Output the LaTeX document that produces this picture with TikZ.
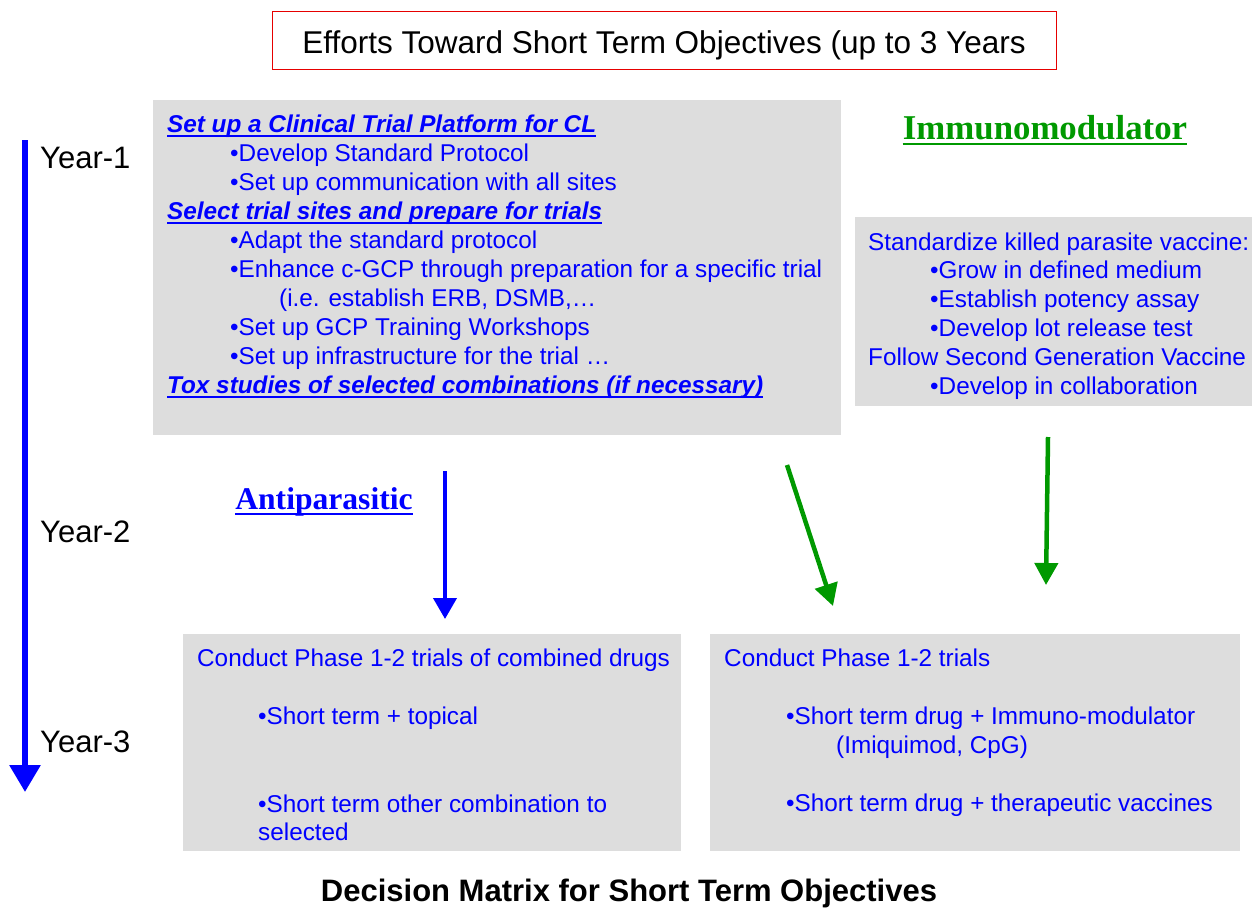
\documentclass[tikz,border=0pt]{standalone}
\usepackage{fontspec}
\setmainfont{Liberation Sans}
\newfontfamily\serifb{Liberation Serif}
\usetikzlibrary{arrows.meta}
\definecolor{bblue}{RGB}{0,0,255}
\definecolor{boxgray}{RGB}{221,221,221}
\definecolor{dgreen}{RGB}{0,153,0}
\definecolor{tred}{RGB}{230,0,0}
\tikzset{
  gbox/.style={fill=boxgray, draw=none},
  txt/.style={anchor=base west, inner sep=0pt, text=bblue, font=\fontsize{24.3}{28}\selectfont},
  hdr/.style={anchor=base west, inner sep=0pt, text=bblue, font=\fontsize{24.3}{28}\selectfont\bfseries\itshape},
  yr/.style={anchor=base west, inner sep=0pt, font=\fontsize{31}{34}\selectfont},
  ttl/.style={anchor=base, inner sep=0pt},
  blarrow/.style={draw=bblue, line width=4pt, -{Triangle[length=21pt,width=23pt]}},
  grarrow/.style={draw=dgreen, line width=4.5pt, -{Triangle[length=22pt,width=23pt]}},
}
\newcommand{\ul}[3][bblue]{\draw[#1, line width=2.6pt] ([yshift=-#3]#2.base west) -- ([yshift=-#3]#2.base east);}
\begin{document}
\begin{tikzpicture}[x=1pt,y=-1pt]
\useasboundingbox (0,0) rectangle (1252,907);
% title
\node[draw=tred, line width=1pt, fill=white, minimum width=784pt, minimum height=57pt, inner sep=0pt] (tbox) at (664,40.5) {};
\node[ttl, font=\fontsize{31.5}{34}\selectfont] (title) at (664,53) {Efforts Toward Short Term Objectives (up to 3 Years};
% boxes
\node[gbox, minimum width=688pt, minimum height=335pt, inner sep=0pt] (b1) at (497,267.5) {};
\node[gbox, minimum width=397pt, minimum height=189pt, inner sep=0pt] (b2) at (1053.5,311.5) {};
\node[gbox, minimum width=498pt, minimum height=217pt, inner sep=0pt] (b3) at (432,742.5) {};
\node[gbox, minimum width=530pt, minimum height=217pt, inner sep=0pt] (b4) at (975,742.5) {};
% box 1 text
\node[hdr] (h1) at (167,132) {Set up a Clinical Trial Platform for CL}; \ul{h1}{4pt}
\node[txt] (l1) at (230,161) {•Develop Standard Protocol};
\node[txt] (l2) at (230,190) {•Set up communication with all sites};
\node[hdr] (h2) at (167,219) {Select trial sites and prepare for trials}; \ul{h2}{4pt}
\node[txt] (l3) at (230,248) {•Adapt the standard protocol};
\node[txt] (l4) at (230,277) {•Enhance c-GCP through preparation for a specific trial};
\node[txt] (l5) at (279,306) {(i.e. establish ERB, DSMB,…};
\node[txt] (l6) at (230,335) {•Set up GCP Training Workshops};
\node[txt] (l7) at (230,364) {•Set up infrastructure for the trial …};
\node[hdr] (h3) at (167,393) {Tox studies of selected combinations (if necessary)}; \ul{h3}{4pt}
% box 2 text
\node[txt] (m1) at (868,250) {Standardize killed parasite vaccine:};
\node[txt] (m2) at (930,278) {•Grow in defined medium};
\node[txt] (m3) at (930,307) {•Establish potency assay};
\node[txt] (m4) at (930,336) {•Develop lot release test};
\node[txt] (m5) at (868,365) {Follow Second Generation Vaccine};
\node[txt] (m6) at (930,394) {•Develop in collaboration};
% headings
\node[ttl, text=dgreen, font=\serifb\fontsize{34.8}{38}\selectfont\bfseries] (imm) at (1045,139) {Immunomodulator}; \ul[dgreen]{imm}{5pt}
\node[ttl, text=bblue, font=\serifb\fontsize{31.6}{35}\selectfont\bfseries] (anti) at (324,509) {Antiparasitic}; \ul[bblue]{anti}{5pt}
% bottom boxes text
\node[txt] (c1) at (197,666) {Conduct Phase 1-2 trials of combined drugs};
\node[txt] (c2) at (258,724) {•Short term + topical};
\node[txt] (c3) at (258,812) {•Short term other combination to};
\node[txt] (c4) at (258,840) {selected};
\node[txt] (d1) at (724,666) {Conduct Phase 1-2 trials};
\node[txt] (d2) at (786,724) {•Short term drug + Immuno-modulator};
\node[txt] (d3) at (836,753) {(Imiquimod, CpG)};
\node[txt] (d4) at (786,811) {•Short term drug + therapeutic vaccines};
% timeline
\coordinate (ts) at (25,140);
\coordinate (te) at (25,792);
\draw[draw=bblue, line width=6pt, -{Triangle[length=27pt,width=30pt]}] (ts) -- (te);
\node[yr] (y1) at (40,168) {Year-1};
\node[yr] (y2) at (40,542) {Year-2};
\node[yr] (y3) at (40,752) {Year-3};
% arrows
\coordinate (a1s) at (445,471); \coordinate (a1e) at (445,619);
\draw[blarrow] (a1s) -- (a1e);
\coordinate (a2s) at (787,465); \coordinate (a2e) at (833,606);
\draw[grarrow] (a2s) -- (a2e);
\coordinate (a3s) at (1048,437); \coordinate (a3e) at (1046,585);
\draw[grarrow] (a3s) -- (a3e);
% caption
\node[ttl, font=\fontsize{31}{34}\selectfont\bfseries] (cap) at (629,901) {Decision Matrix for Short Term Objectives};
\end{tikzpicture}
\end{document}
